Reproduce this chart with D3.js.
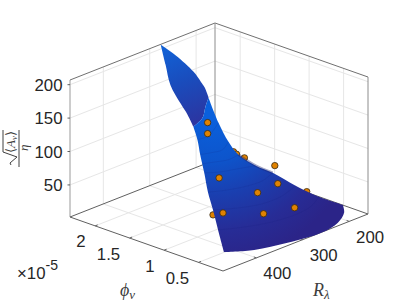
<!DOCTYPE html>
<html>
<head>
<meta charset="utf-8">
<script src="https://d3js.org/d3.v7.min.js"></script>
<style>
  html, body { margin: 0; padding: 0; background: #fff; }
  svg { display: block; }
  text { font-family: "Liberation Sans", Arial, sans-serif; fill: #262626; }
  .math { font-family: "Liberation Serif", serif; font-style: italic; fill: #404040; }
</style>
</head>
<body>
<script>
// Axis ticks
var rTicks = [200, 300, 400],
  phiTicks = [0.5, 1, 1.5, 2],
  phiLabels = ["0.5", "1", "1.5", "2"],
  zTicks = [50, 100, 150, 200];

// Surface rows, bottom arc up to the apex
var surfacePhi = [0.164, 0.418, 0.599, 0.78, 0.961, 1.052, 1.142, 1.323, 1.505, 1.776, 1.957, 2.139, 2.229, 2.32];
var surfaceR = [
  [467, 402, 330, 256, 221.5, 208, 211],
  [442, 383.5, 325, 270, 240, 225],
  [426, 372, 319, 280, 258.5, 248],
  [410, 366, 323, 292, 270.5],
  [391, 356, 322, 280],
  [382, 351.5, 325.5, 303.7],
  [373, 347, 325, 312],
  [352, 328, 317, 306.6],
  [333.7, 314, 307.7, 301],
  [306, 286.6, 269],
  [294, 277, 250.5],
  [289, 267, 239],
  [286, 264],
  [283]
];
var surfaceZ = [
  [28.4, 13.8, 4.8, 0, 5.4, 16.8, 29.3],
  [45.4, 34, 25.6, 22.8, 26.6, 36],
  [64.4, 52.6, 44.5, 44.4, 49, 52],
  [80, 71.5, 66, 65, 71],
  [97, 89, 84, 77.6],
  [105, 99.6, 95.6, 97],
  [113, 109, 107, 115.5],
  [123, 122, 128, 136],
  [130.7, 138.8, 153.6, 165.3],
  [131.3, 141, 161.7],
  [138, 147, 159],
  [158, 163, 164],
  [184, 192],
  [210]
];

// Scatter points, drawn behind or over the surface
var scatterR = [303, 303, 314.6, 308, 291, 225.5, 386, 273, 330, 224, 277, 344, 418, 426],
  scatterPhi = [1.505, 1.505, 1.052, 1.052, 1.052, 1.052, 0.78, 0.689, 0.599, 0.599, 0.418, 0.418, 0.508, 0.599],
  scatterZ = [128.5, 112, 104.5, 99, 89, 59.5, 94.8, 58.6, 64, 36.6, 33.6, 42.9, 61, 57],
  scatterBehind = [false, false, true, true, true, false, false, false, false, true, false, false, false, true];

var width = 407,
  height = 305;

var svg = d3.select("body")
  .append("svg")
  .attr("width", width)
  .attr("height", height);

// Axis limits
var rMin = 159.3, rMax = 471.8,
  phiMin = 0.146, phiMax = 2.365,
  zMin = 2, zMax = 207;

// Oblique view: each data axis adds a screen offset from the front corner
var frontX = 223, frontY = 271;
var rToX = d3.scaleLinear().domain([rMax, rMin]).range([0, 145]),
  rToY = d3.scaleLinear().domain([rMax, rMin]).range([0, -57]),
  phiToX = d3.scaleLinear().domain([phiMin, phiMax]).range([0, -153]),
  phiToY = d3.scaleLinear().domain([phiMin, phiMax]).range([0, -54]),
  zToY = d3.scaleLinear().domain([zMin, zMax]).range([0, -137]);

function project(r, phi, z) {
  return [frontX + rToX(r) + phiToX(phi), frontY + rToY(r) + phiToY(phi) + zToY(z)];
}

var straight = d3.line();
var smooth = d3.line().curve(d3.curveCatmullRom.alpha(0.5));

// Gradients for the shaded surface
var defs = svg.append("defs");
var bodyFill = defs.append("radialGradient")
  .attr("id", "bodyFill")
  .attr("gradientUnits", "userSpaceOnUse")
  .attr("cx", 212).attr("cy", 112).attr("r", 150);
[[0.05, "#0a60dc"], [0.32, "#0d55cc"], [0.55, "#1a3fb0"], [0.8, "#272c96"], [1, "#2b2488"]].forEach(function(s) {
  bodyFill.append("stop").attr("offset", s[0]).attr("stop-color", s[1]);
});
var lobeFill = defs.append("linearGradient")
  .attr("id", "lobeFill")
  .attr("gradientUnits", "userSpaceOnUse")
  .attr("x1", 165).attr("y1", 50).attr("x2", 195).attr("y2", 125);
[[0, "#1260d4"], [0.45, "#1a4cbc"], [1, "#2c34a0"]].forEach(function(s) {
  lobeFill.append("stop").attr("offset", s[0]).attr("stop-color", s[1]);
});

// Back walls and floor grid
var grid = svg.append("g")
  .attr("stroke", "#e6e6e6")
  .attr("stroke-width", 1)
  .attr("fill", "none");

function gridLine(a, b) {
  grid.append("path").attr("d", straight([project(a[0], a[1], a[2]), project(b[0], b[1], b[2])]));
}

rTicks.forEach(function(r) {
  gridLine([r, phiMax, zMin], [r, phiMax, zMax]);
  gridLine([r, phiMin, zMin], [r, phiMax, zMin]);
});
phiTicks.forEach(function(p) {
  gridLine([rMin, p, zMin], [rMin, p, zMax]);
  gridLine([rMin, p, zMin], [rMax, p, zMin]);
});
zTicks.forEach(function(z) {
  gridLine([rMax, phiMax, z], [rMin, phiMax, z]);
  gridLine([rMin, phiMax, z], [rMin, phiMin, z]);
});

// Box edges
var box = svg.append("g")
  .attr("stroke", "#707070")
  .attr("stroke-width", 1)
  .attr("fill", "none");

function boxLine(a, b, color) {
  box.append("path")
    .attr("d", straight([project(a[0], a[1], a[2]), project(b[0], b[1], b[2])]))
    .attr("stroke", color);
}

boxLine([rMax, phiMax, zMax], [rMin, phiMax, zMax], "#707070");
boxLine([rMin, phiMax, zMax], [rMin, phiMin, zMax], "#707070");
boxLine([rMin, phiMax, zMin], [rMin, phiMax, zMax], "#8c8c8c");
boxLine([rMin, phiMin, zMin], [rMin, phiMin, zMax], "#8c8c8c");
boxLine([rMax, phiMax, zMin], [rMax, phiMax, zMax], "#9a9a9a");
boxLine([rMax, phiMax, zMin], [rMin, phiMax, zMin], "#606060");
boxLine([rMin, phiMax, zMin], [rMin, phiMin, zMin], "#606060");
boxLine([rMax, phiMax, zMin], [rMax, phiMin, zMin], "#606060");
boxLine([rMax, phiMin, zMin], [rMin, phiMin, zMin], "#606060");

// Tick marks
zTicks.forEach(function(z) {
  var p = project(rMax, phiMax, z);
  box.append("path").attr("d", straight([[p[0] - 2.5, p[1]], [p[0], p[1]]])).attr("stroke", "#606060");
});
phiTicks.forEach(function(v) {
  var p = project(rMax, v, zMin);
  box.append("path").attr("d", straight([[p[0] + 2.5, p[1] - 1], p])).attr("stroke", "#606060");
});
rTicks.forEach(function(v) {
  var p = project(v, phiMin, zMin);
  box.append("path").attr("d", straight([[p[0] - 2.5, p[1] - 1], p])).attr("stroke", "#606060");
});

// Scatter helper
function drawScatter(behind) {
  svg.append("g")
    .selectAll("circle")
    .data(d3.range(scatterR.length).filter(function(i) { return scatterBehind[i] === behind; }))
    .enter()
    .append("circle")
    .attr("cx", function(i) { return project(scatterR[i], scatterPhi[i], scatterZ[i])[0]; })
    .attr("cy", function(i) { return project(scatterR[i], scatterPhi[i], scatterZ[i])[1]; })
    .attr("r", 3.2)
    .attr("fill", "#e08200")
    .attr("stroke", "#3a2a10")
    .attr("stroke-width", 0.8);
}

// Surface
var rows = surfacePhi.map(function(phi, i) {
  return surfaceR[i].map(function(r, j) {
    return project(r, phi, surfaceZ[i][j]);
  });
});

function joinPaths(list) {
  return list.map(function(d, i) {
    return i === 0 ? d : "L" + d.slice(1);
  }).join("");
}

function firsts(from, to) {
  return rows.slice(from, to + 1).map(function(row) { return row[0]; });
}
function lasts(from, to) {
  return rows.slice(from, to + 1).map(function(row) { return row[row.length - 1]; });
}

drawScatter(true);

var foldRow = 8;
var surface = svg.append("g");

// Upper lobe, fold to apex
surface.append("path")
  .attr("d", joinPaths([
    smooth(rows[foldRow]),
    smooth(lasts(foldRow, rows.length - 1)),
    smooth(firsts(foldRow, rows.length - 1).reverse())
  ]) + "Z")
  .attr("fill", "url(#lobeFill)");

// Main body below the fold
surface.append("path")
  .attr("d", joinPaths([
    smooth(rows[0]),
    smooth(lasts(0, foldRow)),
    smooth(rows[foldRow].slice().reverse()),
    smooth(firsts(0, foldRow).reverse())
  ]) + "Z")
  .attr("fill", "url(#bodyFill)");

// Mesh bands across the body
surface.selectAll(".band")
  .data(d3.range(1, foldRow))
  .enter()
  .append("path")
  .attr("class", "band")
  .attr("d", function(i) { return smooth(rows[i]); })
  .attr("fill", "none")
  .attr("stroke", "#141a70")
  .attr("stroke-width", 1)
  .attr("stroke-opacity", 0.12);

// Dark crease along the upper edge
surface.append("path")
  .attr("d", smooth(lasts(3, 5)))
  .attr("fill", "none")
  .attr("stroke", "#1c2370")
  .attr("stroke-width", 2.5)
  .attr("stroke-opacity", 0.4);

drawScatter(false);

// Tick labels
var tickSize = 16.8;
zTicks.forEach(function(z) {
  var p = project(rMax, phiMax, z);
  svg.append("text")
    .attr("x", p[0] - 7.5)
    .attr("y", p[1] + 6)
    .attr("text-anchor", "end")
    .attr("font-size", tickSize)
    .text(z);
});
phiTicks.forEach(function(v, i) {
  var p = project(rMax, v, zMin);
  svg.append("text")
    .attr("x", p[0] - 9.5)
    .attr("y", p[1] + 21.5)
    .attr("text-anchor", "end")
    .attr("font-size", tickSize)
    .text(phiLabels[i]);
});
rTicks.forEach(function(v) {
  var p = project(v, phiMin, zMin);
  svg.append("text")
    .attr("x", p[0] + 21)
    .attr("y", p[1] + 21.5)
    .attr("text-anchor", "middle")
    .attr("font-size", tickSize)
    .text(v);
});

// Exponent of the phi axis
var expo = svg.append("text").attr("x", 17).attr("y", 279).attr("font-size", tickSize);
expo.append("tspan").text("\u00d710");
expo.append("tspan").attr("dy", -9).attr("font-size", 14).text("-5");

// Axis titles
var phiTitle = svg.append("text").attr("class", "math").attr("x", 120).attr("y", 296).attr("font-size", 18);
phiTitle.append("tspan").text("\u03d5");
phiTitle.append("tspan").attr("dy", 3).attr("font-size", 13).text("v");

var rTitle = svg.append("text").attr("class", "math").attr("x", 313).attr("y", 296).attr("font-size", 18);
rTitle.append("tspan").text("R");
rTitle.append("tspan").attr("dy", 3).attr("font-size", 13).text("\u03bb");

// Rotated z title: sqrt(<A_v>) / eta
var zTitle = svg.append("g").attr("stroke", "#404040").attr("fill", "none").attr("stroke-width", 1);
zTitle.append("path").attr("d", straight([[19, 130], [19, 167]]));
zTitle.append("path").attr("d", straight([[3, 130], [3, 152], [17, 157], [10, 163], [11, 165]]));

var numer = svg.append("text")
  .attr("class", "math")
  .attr("transform", "translate(15,153) rotate(-90)")
  .attr("font-size", 13);
numer.append("tspan").style("font-style", "normal").text("\u27e8");
numer.append("tspan").text("A");
numer.append("tspan").attr("dy", 2).attr("font-size", 9).text("v");
numer.append("tspan").attr("dy", -2).style("font-style", "normal").text("\u27e9");

svg.append("text")
  .attr("class", "math")
  .attr("transform", "translate(28,151) rotate(-90)")
  .attr("font-size", 13)
  .text("\u03b7");
</script>
</body>
</html>
